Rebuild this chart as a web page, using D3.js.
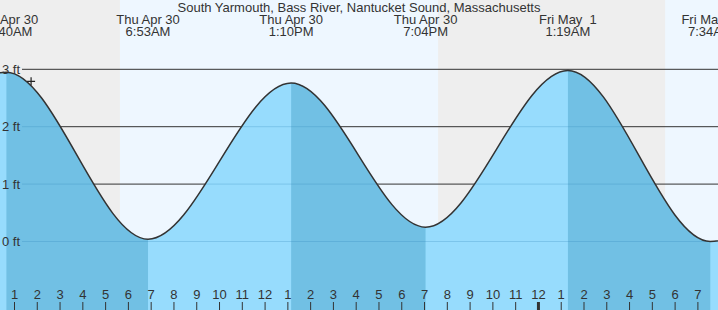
<!DOCTYPE html>
<html>
<head>
<meta charset="utf-8">
<script src="https://cdn.jsdelivr.net/npm/d3@7"></script>
<style>
  html, body { margin: 0; padding: 0; background: #fff; }
  svg { display: block; font-family: "Liberation Sans", Arial, sans-serif; }
</style>
</head>
<body>
<div id="chart"></div>
<script>
// tide extremes (incl. one before and one after the visible window)
const extremeTimes = ["2020-04-29T18:28", "2020-04-30T00:40", "2020-04-30T06:53", "2020-04-30T13:10",
                      "2020-04-30T19:04", "2020-05-01T01:19", "2020-05-01T07:34", "2020-05-01T13:50"];
const extremeHeights = [0.22, 2.95, 0.04, 2.76, 0.25, 2.98, 0.0, 2.8];
const extremeKinds = ["low", "high", "low", "high", "low", "high", "low", "high"];
const headerDates = [null, "Thu Apr 30", "Thu Apr 30", "Thu Apr 30", "Thu Apr 30", "Fri May  1", "Fri May  1", null];
const headerTimes = [null, "12:40AM", "6:53AM", "1:10PM", "7:04PM", "1:19AM", "7:34AM", null];

// night periods (gray background)
const nightStarts = ["2020-04-29T19:36", "2020-04-30T19:37"];
const nightEnds = ["2020-04-30T05:39", "2020-05-01T05:35"];

const feetTicks = [0, 1, 2, 3];
const nowTime = "2020-04-30T01:45";
const nowHeight = 2.79;
const title = "South Yarmouth, Bass River, Nantucket Sound, Massachusetts";

const W = 718, H = 310;
const parse = d3.timeParse("%Y-%m-%dT%H:%M");

const x = d3.scaleTime()
    .domain([parse("2020-04-30T00:00"), parse("2020-05-01T00:00")])
    .range([-8.78, 537.94]);
const y = d3.scaleLinear().domain([0, 3]).range([241.5, 69.3]);

const tides = extremeTimes.map((t, i) => ({
    t: parse(t), h: extremeHeights[i], kind: extremeKinds[i],
    date: headerDates[i], time: headerTimes[i]
}));

const svg = d3.select("#chart").append("svg")
    .attr("width", W).attr("height", H);

// day background
svg.append("rect").attr("width", W).attr("height", H).attr("fill", "#eef7ff");

// night bands
svg.selectAll("rect.night")
    .data(nightStarts.map((s, i) => [parse(s), parse(nightEnds[i])]))
    .join("rect")
    .attr("class", "night")
    .attr("x", d => x(d[0]))
    .attr("y", 0)
    .attr("width", d => x(d[1]) - x(d[0]))
    .attr("height", H)
    .attr("fill", "#eeeeee");

// grid lines (dark, above the water)
svg.selectAll("line.grid")
    .data(feetTicks)
    .join("line")
    .attr("class", "grid")
    .attr("x1", 22).attr("x2", W)
    .attr("y1", d => y(d)).attr("y2", d => y(d))
    .attr("stroke", "#333").attr("stroke-width", 1);

// water
const area = d3.area()
    .x(d => x(d.t))
    .y0(H)
    .y1(d => y(d.h))
    .curve(d3.curveMonotoneX);

const line = d3.line()
    .x(d => x(d.t))
    .y(d => y(d.h))
    .curve(d3.curveMonotoneX);

svg.append("clipPath").attr("id", "water")
    .append("path").attr("d", area(tides));

svg.append("path").attr("d", area(tides)).attr("fill", "#97dcfd");

// falling tide (high -> low) is darker
const falling = [];
tides.forEach((d, i) => {
    if (d.kind === "high" && tides[i + 1]) falling.push([d.t, tides[i + 1].t]);
});
const waterG = svg.append("g").attr("clip-path", "url(#water)");
waterG.selectAll("rect")
    .data(falling)
    .join("rect")
    .attr("x", d => x(d[0]))
    .attr("y", 0)
    .attr("width", d => x(d[1]) - x(d[0]))
    .attr("height", H)
    .attr("fill", "#71c0e4");

// faint grid lines inside the water
waterG.selectAll("line")
    .data(feetTicks)
    .join("line")
    .attr("x1", 22).attr("x2", W)
    .attr("y1", d => y(d)).attr("y2", d => y(d))
    .attr("stroke", "#2a80b8").attr("stroke-opacity", 0.25).attr("stroke-width", 1);

// tide curve
svg.append("path")
    .attr("d", line(tides))
    .attr("fill", "none")
    .attr("stroke", "#333")
    .attr("stroke-width", 1.5);

// feet labels
svg.selectAll("text.ft")
    .data(feetTicks)
    .join("text")
    .attr("class", "ft")
    .attr("x", 20)
    .attr("y", d => y(d))
    .attr("dy", "0.36em")
    .attr("text-anchor", "end")
    .attr("font-size", 13)
    .attr("fill", "#333")
    .text(d => `${d} ft`);

// current time marker
const nx = x(parse(nowTime)), ny = y(nowHeight);
svg.append("path")
    .attr("d", `M${nx - 4},${ny}H${nx + 4}M${nx},${ny - 4}V${ny + 4}`)
    .attr("stroke", "#222").attr("stroke-width", 1.2);

// header
svg.append("text")
    .attr("x", W / 2).attr("y", 12)
    .attr("text-anchor", "middle")
    .attr("font-size", 13)
    .attr("fill", "#333")
    .text(title);

const head = svg.selectAll("g.head")
    .data(tides.filter(d => d.date))
    .join("g")
    .attr("class", "head")
    .attr("transform", d => `translate(${x(d.t)},0)`)
    .attr("font-size", 13)
    .attr("fill", "#333")
    .attr("text-anchor", "middle");
head.append("text").attr("y", 24).style("white-space", "pre").text(d => d.date);
head.append("text").attr("y", 36).text(d => d.time);

// hour axis
const hours = d3.timeHour.range(x.invert(0), x.invert(W));
const axis = d3.axisTop(x)
    .tickValues(hours)
    .tickSize(8)
    .tickPadding(3)
    .tickFormat(d3.timeFormat("%-I"));

const ax = svg.append("g")
    .attr("transform", `translate(0,${H})`)
    .call(axis);
ax.select(".domain").remove();
ax.selectAll("text")
    .attr("font-family", "Liberation Sans, Arial, sans-serif")
    .attr("font-size", 13)
    .attr("fill", "#333");
ax.selectAll(".tick line")
    .attr("stroke", "#333")
    .attr("stroke-width", d => d.getHours() === 0 ? 3 : 1);
</script>
</body>
</html>
